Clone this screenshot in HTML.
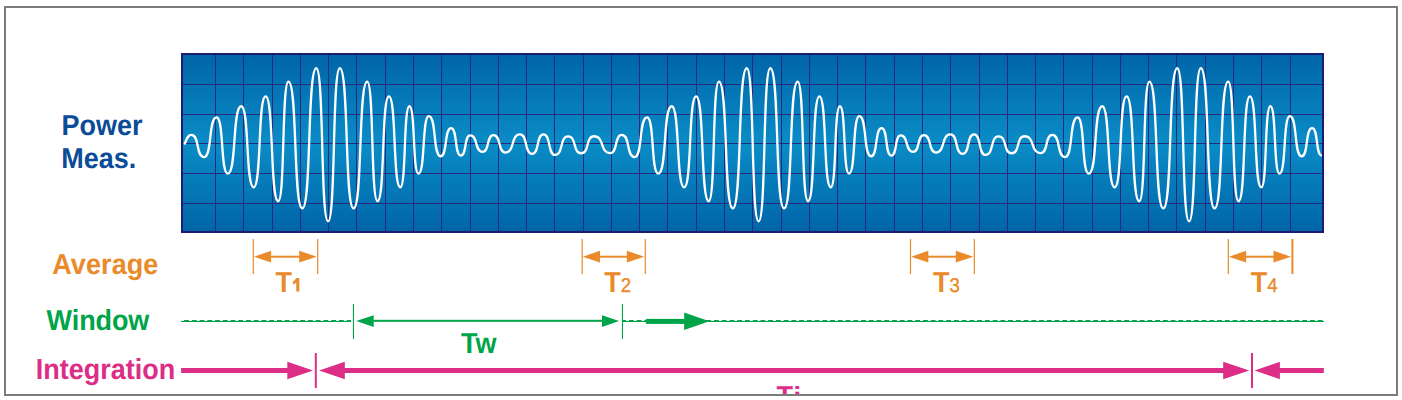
<!DOCTYPE html>
<html><head><meta charset="utf-8">
<style>
html,body{margin:0;padding:0;background:#fff;}
svg{display:block;}
text{font-family:"Liberation Sans",sans-serif;text-rendering:geometricPrecision;}
.b{font-weight:bold;font-size:27px;}
.r{font-weight:normal;font-size:18.6px;stroke:#e98a2b;stroke-width:0.35px;}
</style></head>
<body>
<svg width="1402" height="400" viewBox="0 0 1402 400">
<defs>
<linearGradient id="bg" x1="0" y1="0" x2="0" y2="1">
<stop offset="0" stop-color="#0065a8"/>
<stop offset="0.5" stop-color="#0a8cc6"/>
<stop offset="1" stop-color="#0065a8"/>
</linearGradient>
<clipPath id="clipframe"><rect x="6" y="8" width="1390" height="386"/></clipPath>
</defs>
<rect x="0" y="0" width="1402" height="400" fill="#fff"/>
<g clip-path="url(#clipframe)">
<rect x="182" y="54" width="1141" height="178" fill="url(#bg)"/>
<path d="M215.5 55V231 M243.5 55V231 M272.5 55V231 M300.5 55V231 M328.5 55V231 M356.5 55V231 M385.5 55V231 M413.5 55V231 M441.5 55V231 M470.5 55V231 M498.5 55V231 M526.5 55V231 M554.5 55V231 M583.5 55V231 M611.5 55V231 M639.5 55V231 M667.5 55V231 M696.5 55V231 M724.5 55V231 M752.5 55V231 M781.5 55V231 M809.5 55V231 M837.5 55V231 M865.5 55V231 M894.5 55V231 M922.5 55V231 M950.5 55V231 M979.5 55V231 M1007.5 55V231 M1035.5 55V231 M1063.5 55V231 M1092.5 55V231 M1120.5 55V231 M1148.5 55V231 M1176.5 55V231 M1205.5 55V231 M1233.5 55V231 M1261.5 55V231 M1290.5 55V231 M183 84.5H1322 M183 114.5H1322 M183 143.5H1322 M183 173.5H1322 M183 203.5H1322" stroke="#262a7c" stroke-width="1" fill="none" shape-rendering="crispEdges"/>
<rect x="182" y="54" width="1141" height="178" fill="none" stroke="#1d1c72" stroke-width="2"/>
<path d="M184.30 144.50 C186.78 139.19 187.50 134.85 191.40 134.85 C199.72 134.85 195.68 157.05 204.00 157.05 C212.32 157.05 208.28 117.45 216.60 117.45 C223.99 117.45 220.41 173.65 227.80 173.65 C236.64 173.65 232.36 106.25 241.20 106.25 C249.45 106.25 245.45 187.35 253.70 187.35 C261.55 187.35 257.75 96.45 265.60 96.45 C273.98 96.45 269.92 201.25 278.30 201.25 C284.97 201.25 281.73 81.55 288.40 81.55 C297.57 81.55 293.13 208.45 302.30 208.45 C311.54 208.45 307.06 68.25 316.30 68.25 C324.09 68.25 320.31 221.35 328.10 221.35 C335.82 221.35 332.08 68.25 339.80 68.25 C348.91 68.25 344.49 208.45 353.60 208.45 C362.58 208.45 358.22 81.55 367.20 81.55 C374.00 81.55 370.70 201.25 377.50 201.25 C385.02 201.25 381.38 96.45 388.90 96.45 C396.42 96.45 392.78 187.35 400.30 187.35 C406.31 187.35 403.39 106.25 409.40 106.25 C415.41 106.25 412.49 173.65 418.50 173.65 C425.30 173.65 422.00 116.05 428.80 116.05 C436.59 116.05 432.81 156.25 440.60 156.25 C447.53 156.25 444.17 128.05 451.10 128.05 C457.50 128.05 454.40 155.55 460.80 155.55 C466.94 155.55 463.96 135.45 470.10 135.45 C478.28 135.45 474.32 151.85 482.50 151.85 C489.76 151.85 486.24 135.05 493.50 135.05 C501.35 135.05 497.55 152.55 505.40 152.55 C515.04 152.55 510.36 134.45 520.00 134.45 C527.99 134.45 524.11 153.85 532.10 153.85 C539.62 153.85 535.98 134.45 543.50 134.45 C551.09 134.45 547.41 154.85 555.00 154.85 C563.65 154.85 559.45 136.35 568.10 136.35 C576.75 136.35 572.55 153.25 581.20 153.25 C589.65 153.25 585.55 136.25 594.00 136.25 C604.76 136.25 599.54 153.05 610.30 153.05 C617.96 153.05 614.24 134.85 621.90 134.85 C630.22 134.85 626.18 157.05 634.50 157.05 C642.82 157.05 638.78 117.45 647.10 117.45 C654.49 117.45 650.91 173.65 658.30 173.65 C667.14 173.65 662.86 106.25 671.70 106.25 C679.95 106.25 675.95 187.35 684.20 187.35 C692.05 187.35 688.25 96.45 696.10 96.45 C704.48 96.45 700.42 201.25 708.80 201.25 C715.47 201.25 712.23 81.55 718.90 81.55 C728.07 81.55 723.63 208.45 732.80 208.45 C742.04 208.45 737.56 68.25 746.80 68.25 C754.59 68.25 750.81 221.35 758.60 221.35 C766.32 221.35 762.58 68.25 770.30 68.25 C779.41 68.25 774.99 208.45 784.10 208.45 C793.08 208.45 788.72 81.55 797.70 81.55 C804.50 81.55 801.20 201.25 808.00 201.25 C815.52 201.25 811.88 96.45 819.40 96.45 C826.92 96.45 823.28 187.35 830.80 187.35 C836.81 187.35 833.89 106.25 839.90 106.25 C845.91 106.25 842.99 173.65 849.00 173.65 C855.80 173.65 852.50 116.05 859.30 116.05 C867.09 116.05 863.31 156.25 871.10 156.25 C878.03 156.25 874.67 128.05 881.60 128.05 C888.00 128.05 884.90 155.55 891.30 155.55 C897.44 155.55 894.46 135.45 900.60 135.45 C908.78 135.45 904.82 151.85 913.00 151.85 C920.26 151.85 916.74 135.05 924.00 135.05 C931.85 135.05 928.05 152.55 935.90 152.55 C945.54 152.55 940.86 134.45 950.50 134.45 C958.49 134.45 954.61 153.85 962.60 153.85 C970.12 153.85 966.48 134.45 974.00 134.45 C981.59 134.45 977.91 154.85 985.50 154.85 C994.15 154.85 989.95 136.35 998.60 136.35 C1007.25 136.35 1003.05 153.25 1011.70 153.25 C1020.15 153.25 1016.05 136.25 1024.50 136.25 C1035.26 136.25 1030.04 153.05 1040.80 153.05 C1048.46 153.05 1044.74 134.85 1052.40 134.85 C1060.72 134.85 1056.68 157.05 1065.00 157.05 C1073.32 157.05 1069.28 117.45 1077.60 117.45 C1084.99 117.45 1081.41 173.65 1088.80 173.65 C1097.64 173.65 1093.36 106.25 1102.20 106.25 C1110.45 106.25 1106.45 187.35 1114.70 187.35 C1122.55 187.35 1118.75 96.45 1126.60 96.45 C1134.98 96.45 1130.92 201.25 1139.30 201.25 C1145.97 201.25 1142.73 81.55 1149.40 81.55 C1158.57 81.55 1154.13 208.45 1163.30 208.45 C1172.54 208.45 1168.06 68.25 1177.30 68.25 C1185.09 68.25 1181.31 221.35 1189.10 221.35 C1196.82 221.35 1193.08 68.25 1200.80 68.25 C1209.91 68.25 1205.49 208.45 1214.60 208.45 C1223.58 208.45 1219.22 81.55 1228.20 81.55 C1235.00 81.55 1231.70 201.25 1238.50 201.25 C1246.02 201.25 1242.38 96.45 1249.90 96.45 C1257.42 96.45 1253.78 187.35 1261.30 187.35 C1267.31 187.35 1264.39 106.25 1270.40 106.25 C1276.41 106.25 1273.49 173.65 1279.50 173.65 C1286.30 173.65 1283.00 116.05 1289.80 116.05 C1297.59 116.05 1293.81 156.25 1301.60 156.25 C1308.53 156.25 1305.17 128.05 1312.10 128.05 C1318.50 128.05 1315.40 155.55 1321.80 155.55" stroke="#fff" stroke-width="2.3" fill="none" stroke-linejoin="round" stroke-linecap="butt"/>

<text transform="translate(61.5 135) scale(1 1.07)" class="b" fill="#0b4b98">Power</text>
<text transform="translate(61.3 168) scale(1 1.07)" class="b" fill="#0b4b98">Meas.</text>
<text transform="translate(52.2 274) scale(1 1.07)" letter-spacing="0.1" class="b" fill="#e98a2b">Average</text>
<text transform="translate(46.6 330) scale(1 1.07)" letter-spacing="-0.1" class="b" fill="#00a449">Window</text>
<text transform="translate(35.8 379) scale(1 1.07)" class="b" fill="#dc2d87">Integration</text>

<rect x="252.7" y="239" width="1.2" height="35" fill="#e98a2b"/>
<rect x="317.1" y="239" width="1.2" height="35" fill="#e98a2b"/>
<rect x="258.3" y="255.7" width="54.4" height="2" fill="#e98a2b"/>
<polygon points="253.9,256.7 271.1,250.8 271.1,262.6" fill="#e98a2b"/>
<polygon points="316.7,256.7 299.2,250.8 299.2,262.6" fill="#e98a2b"/>
<text transform="translate(275.6 291.8) scale(1 1.07)" class="b" fill="#e98a2b">T</text>
<path d="M299.3 278.1V291.6H296.3V282.6Q294.9 284 292.9 284.6V281.7Q295.0 280.6 296.4 278.1Z" fill="#e98a2b"/>
<rect x="581.6" y="239" width="1.2" height="35" fill="#e98a2b"/>
<rect x="644.7" y="239" width="1.2" height="35" fill="#e98a2b"/>
<rect x="587.2" y="255.7" width="53.1" height="2" fill="#e98a2b"/>
<polygon points="582.8,256.7 600.0,250.8 600.0,262.6" fill="#e98a2b"/>
<polygon points="644.3,256.7 626.8,250.8 626.8,262.6" fill="#e98a2b"/>
<text transform="translate(604.2 291.8) scale(1 1.07)" class="b" fill="#e98a2b">T<tspan class="r">2</tspan></text>
<rect x="909.9" y="239" width="1.2" height="35" fill="#e98a2b"/>
<rect x="973.7" y="239" width="1.2" height="35" fill="#e98a2b"/>
<rect x="915.5" y="255.7" width="53.8" height="2" fill="#e98a2b"/>
<polygon points="911.1,256.7 928.3,250.8 928.3,262.6" fill="#e98a2b"/>
<polygon points="973.3,256.7 955.8,250.8 955.8,262.6" fill="#e98a2b"/>
<text transform="translate(932.9 291.8) scale(1 1.07)" class="b" fill="#e98a2b">T<tspan class="r">3</tspan></text>
<rect x="1227.7" y="239" width="1.2" height="35" fill="#e98a2b"/>
<rect x="1291.4" y="239" width="2.0" height="35" fill="#e98a2b"/>
<rect x="1233.3" y="255.7" width="53.7" height="2" fill="#e98a2b"/>
<polygon points="1228.9,256.7 1246.1,250.8 1246.1,262.6" fill="#e98a2b"/>
<polygon points="1291.0,256.7 1273.5,250.8 1273.5,262.6" fill="#e98a2b"/>
<text transform="translate(1250.7 291.8) scale(1 1.07)" class="b" fill="#e98a2b">T<tspan class="r">4</tspan></text>

<!-- window row -->
<path d="M181 321.5H351" stroke="#00a449" stroke-width="1" fill="none"/>
<path d="M181 320.5H351" stroke="#00a449" stroke-width="1" stroke-dasharray="4.9 2.84" stroke-dashoffset="4.64" fill="none"/>
<path d="M623 321.5H1324" stroke="#00a449" stroke-width="1" fill="none"/>
<path d="M623 320.5H1324" stroke="#00a449" stroke-width="1" stroke-dasharray="4.9 2.84" stroke-dashoffset="1.9" fill="none"/>
<rect x="352.9" y="304" width="1.1" height="35" fill="#00a449"/>
<rect x="621.9" y="304" width="1.1" height="35" fill="#00a449"/>
<rect x="370" y="319.8" width="235" height="2" fill="#00a449"/>
<polygon points="356.2,321.1 373.7,315.2 373.7,327.0" fill="#00a449"/>
<polygon points="619.1,321.1 602.0,315.2 602.0,327.0" fill="#00a449"/>
<rect x="645.8" y="318.9" width="40" height="5" fill="#00a449"/>
<polygon points="709.4,321.3 684.2,312.5 684.2,330.1" fill="#00a449"/>
<text transform="translate(461.0 353) scale(1 1.07)" class="b" fill="#00a449">Tw</text>

<!-- integration row -->
<rect x="181.1" y="368" width="108" height="5" fill="#dc2d87"/>
<polygon points="313.1,370.5 287.3,361.8 287.3,379.2" fill="#dc2d87"/>
<rect x="314.8" y="353" width="2" height="35" fill="#dc2d87"/>
<polygon points="319.1,370.5 344.8,361.8 344.8,379.2" fill="#dc2d87"/>
<rect x="343" y="368" width="882" height="5" fill="#dc2d87"/>
<polygon points="1249.2,370.5 1223.2,361.8 1223.2,379.2" fill="#dc2d87"/>
<rect x="1251" y="353" width="2" height="35" fill="#dc2d87"/>
<polygon points="1254.5,370.5 1279.9,361.8 1279.9,379.2" fill="#dc2d87"/>
<rect x="1278" y="368" width="45.8" height="5" fill="#dc2d87"/>
<text transform="translate(776.5 406) scale(1 1.07)" class="b" fill="#dc2d87">T</text>
<text transform="translate(793.6 407) scale(1 1.07)" class="b" fill="#dc2d87">i</text>
</g>
<rect x="5" y="7" width="1392" height="388" fill="none" stroke="#7b7b7b" stroke-width="2"/>
</svg>
</body></html>
